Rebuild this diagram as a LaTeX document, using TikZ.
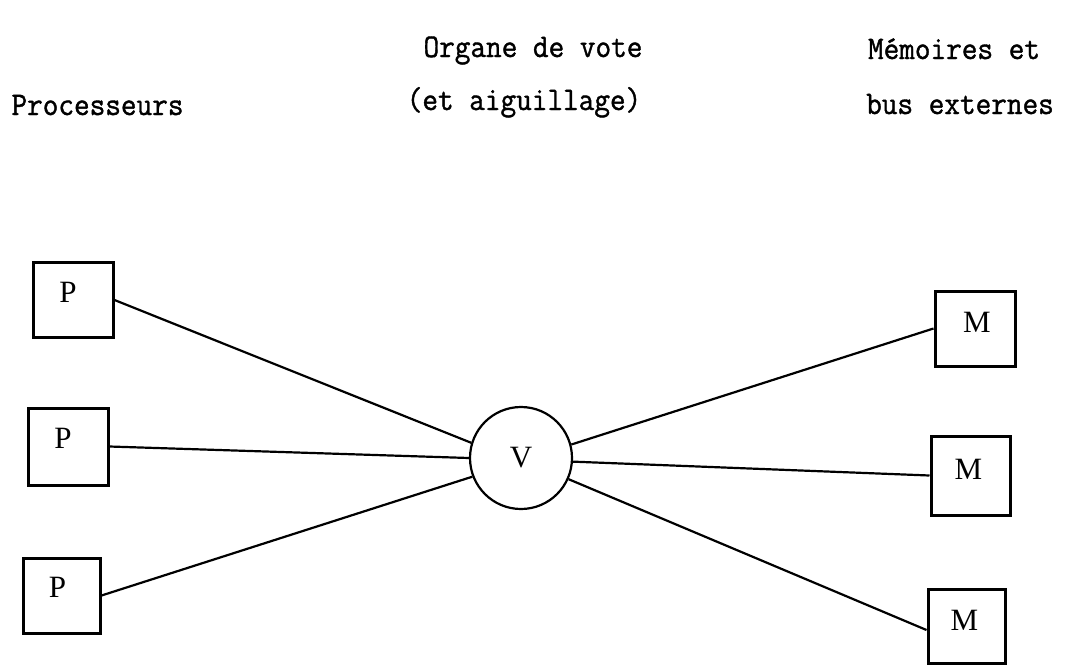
\documentclass[tikz,border=0pt]{standalone}
\usepackage{fontspec}
\newfontfamily\tw{Latin Modern Mono}[FakeBold=1.2,FakeStretch=0.92]
\newfontfamily\rmlab{Liberation Serif}
\begin{document}
\begin{tikzpicture}[x=1pt,y=-1pt,
  box/.style={draw,line width=3pt,inner sep=0pt,minimum width=80pt,minimum height=75pt},
  lab/.style={font=\rmlab\fontsize{31}{36}\selectfont,inner sep=0pt},
  head/.style={font=\tw\fontsize{33}{38}\selectfont,inner sep=0pt,anchor=base},
  wire/.style={line width=2.2pt}]
\useasboundingbox (0,0) rectangle (1068,667);
% headings
\node[head] (h1) at (97.5,115) {Processeurs};
\node[head] (h2) at (533,57) {Organe de vote};
\node[head] (h3) at (524,110) {(et aiguillage)};
\node[head] (h4) at (954,59) {Mémoires et};
\node[head] (h5) at (960,114) {bus externes};
% processors
\node[box] (p1) at (73,300) {};
\node[box,minimum height=77pt] (p2) at (68,446.5) {};
\node[box,minimum width=77pt] (p3) at (61.5,595.5) {};
\node[lab] (lp1) at ([shift={(-5,-8)}]p1.center) {P};
\node[lab] (lp2) at ([shift={(-5,-8)}]p2.center) {P};
\node[lab] (lp3) at ([shift={(-4,-8)}]p3.center) {P};
% memories
\node[box] (m1) at (975,328.5) {};
\node[box,minimum width=79pt,minimum height=79pt] (m2) at (970.5,475.5) {};
\node[box,minimum width=77pt,minimum height=74pt] (m3) at (966.5,626) {};
\node[lab] (lm1) at ([shift={(2,-6)}]m1.center) {M};
\node[lab] (lm2) at ([shift={(-2,-6)}]m2.center) {M};
\node[lab] (lm3) at ([shift={(-2,-6)}]m3.center) {M};
% voter
\node[draw,circle,line width=2.2pt,minimum size=102pt,inner sep=0pt,font=\rmlab\fontsize{31}{36}\selectfont] (v) at (521,458) {V};
% connections
\draw[wire] (p1.east) -- (v.163);
\draw[wire] (p2.east) -- (v.180);
\draw[wire] (p3.east) -- (v.201);
\draw[wire] (v.15) -- (m1.west);
\draw[wire] (v.-4) -- (m2.west);
\draw[wire] (v.-24) -- ([yshift=-4pt]m3.west);
\end{tikzpicture}
\end{document}
